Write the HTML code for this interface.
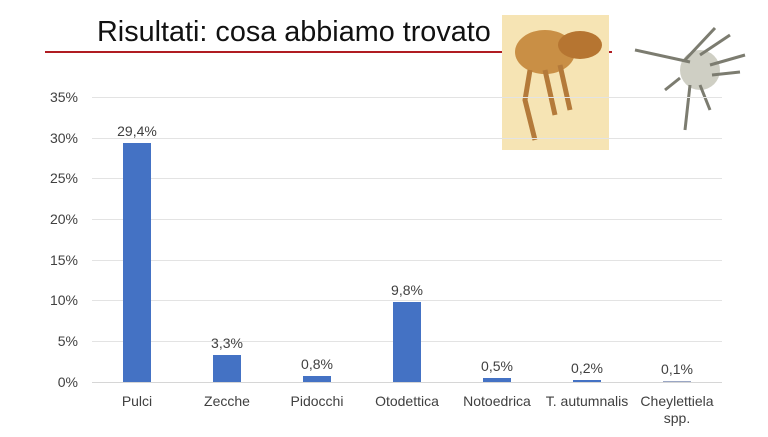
<!DOCTYPE html>
<html><head><meta charset="utf-8"><style>
body{margin:0;width:768px;height:432px;background:#fff;overflow:hidden;font-family:"Liberation Sans",sans-serif;}
</style></head><body>
<svg width="768" height="432" viewBox="0 0 768 432" xmlns="http://www.w3.org/2000/svg" font-family="Liberation Sans, sans-serif">
<rect width="768" height="432" fill="#fff"/>
<text x="97" y="41" font-size="28.8" fill="#111">Risultati: cosa abbiamo trovato</text>
<line x1="45" y1="52" x2="612" y2="52" stroke="#b01c22" stroke-width="2"/>
<rect x="502" y="15" width="107" height="135" fill="#f6e4b4"/>
<ellipse cx="545" cy="52" rx="30" ry="22" fill="#c98f45"/>
<ellipse cx="580" cy="45" rx="22" ry="14" fill="#b67531"/>
<path d="M530 70 L525 100 L535 140 M545 70 L555 115 M560 65 L570 110" stroke="#b47a3a" stroke-width="5" fill="none"/>
<rect x="612" y="15" width="156" height="135" fill="#fff"/>
<circle cx="700" cy="70" r="20" fill="#cfcfc4"/>
<path d="M635 50 L690 62 M685 60 L715 28 M700 55 L730 35 M710 65 L745 55 M712 75 L740 72 M690 85 L685 130 M700 85 L710 110 M680 78 L665 90" stroke="#7c7c70" stroke-width="3" fill="none"/>
<g stroke="#e3e3e3" stroke-width="1">
<line x1="92" y1="97.5" x2="722" y2="97.5"/>
<line x1="92" y1="138.5" x2="722" y2="138.5"/>
<line x1="92" y1="178.5" x2="722" y2="178.5"/>
<line x1="92" y1="219.5" x2="722" y2="219.5"/>
<line x1="92" y1="260.5" x2="722" y2="260.5"/>
<line x1="92" y1="300.5" x2="722" y2="300.5"/>
<line x1="92" y1="341.5" x2="722" y2="341.5"/>
<line x1="92" y1="382.5" x2="722" y2="382.5" stroke="#d6d6d6"/>
</g>
<g font-size="14" fill="#404040" text-anchor="end">
<text x="78" y="102">35%</text><text x="78" y="143">30%</text><text x="78" y="183">25%</text>
<text x="78" y="224">20%</text><text x="78" y="265">15%</text><text x="78" y="305">10%</text>
<text x="78" y="346">5%</text><text x="78" y="387">0%</text>
</g>
<g fill="#4472c4">
<rect x="123" y="143" width="28" height="239"/>
<rect x="213" y="355" width="28" height="27"/>
<rect x="303" y="376" width="28" height="6"/>
<rect x="393" y="302" width="28" height="80"/>
<rect x="483" y="378" width="28" height="4"/>
<rect x="573" y="380" width="28" height="2"/>
<rect x="663" y="381" width="28" height="1" fill="#9aa6c4"/>
</g>
<g font-size="14" fill="#404040" text-anchor="middle">
<text x="137" y="136">29,4%</text><text x="227" y="348">3,3%</text><text x="317" y="369">0,8%</text>
<text x="407" y="295">9,8%</text><text x="497" y="371">0,5%</text><text x="587" y="373">0,2%</text>
<text x="677" y="374">0,1%</text>
<text x="137" y="406">Pulci</text><text x="227" y="406">Zecche</text><text x="317" y="406">Pidocchi</text>
<text x="407" y="406">Otodettica</text><text x="497" y="406">Notoedrica</text><text x="587" y="406">T. autumnalis</text>
<text x="677" y="406">Cheylettiela</text><text x="677" y="423">spp.</text>
</g>
</svg>
</body></html>
